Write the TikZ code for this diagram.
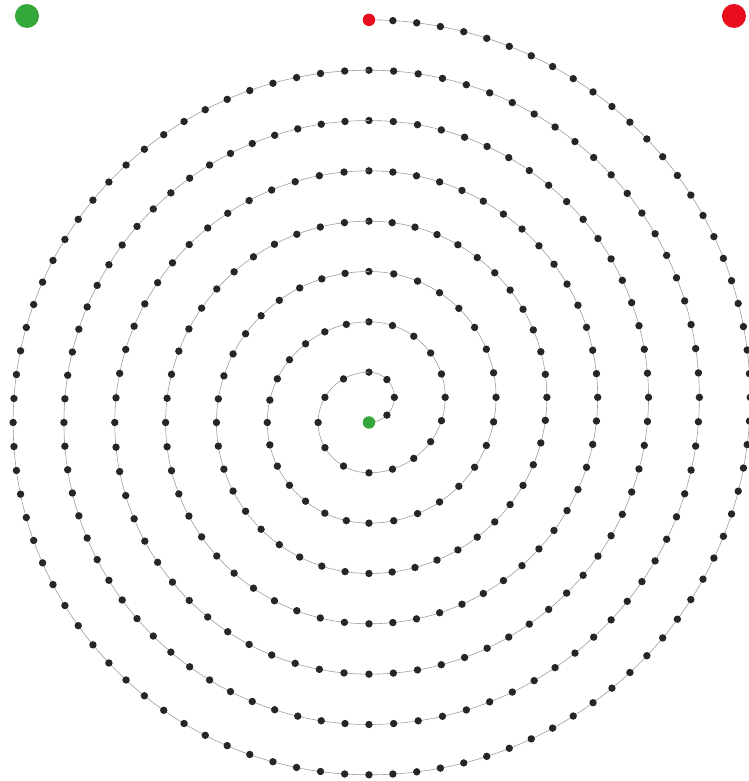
\documentclass[tikz,border=0pt]{standalone}
\usepackage{tikz}
\definecolor{beadgray}{RGB}{38,38,38}
\definecolor{markgreen}{RGB}{52,168,58}
\definecolor{markred}{RGB}{232,14,30}

\begin{document}
\begin{tikzpicture}[
    x=1.01pt, y=1pt,
    turn/.style={draw=black!38, line width=0.6pt},
    bead/.style={circle, fill=beadgray, inner sep=0pt, minimum size=7.4pt},
    endmark/.style={circle, inner sep=0pt, minimum size=12.5pt},
    cornermark/.style={circle, inner sep=0pt, minimum size=24pt}
]
\useasboundingbox (-365.3,-358.5) rectangle (376.2,422.5);
\def\pitch{50.33}

% half turns on the right, centred above the start
\foreach \k in {0,...,7}{
    \pgfmathsetmacro{\rr}{\k*\pitch+\pitch/2}
    \draw[turn] (0,-\k*\pitch) arc[start angle=-90, end angle=90, radius=\rr];
    \pgfmathtruncatemacro{\nn}{2*round(pi*\rr/48)}
    \foreach \j in {1,...,\nn}{
        \pgfmathsetmacro{\aa}{-90+180*\j/\nn}
        \node[bead] (r\k-\j) at ({\rr*cos(\aa)}, {\pitch/2+\rr*sin(\aa)}) {};
    }
}
% half turns on the left, centred on the start
\foreach \k in {1,...,7}{
    \pgfmathsetmacro{\rr}{\k*\pitch}
    \draw[turn] (0,\rr) arc[start angle=90, end angle=270, radius=\rr];
    \pgfmathtruncatemacro{\nn}{2*round(pi*\rr/48)}
    \foreach \j in {1,...,\nn}{
        \pgfmathsetmacro{\aa}{90+180*\j/\nn}
        \node[bead] (l\k-\j) at ({\rr*cos(\aa)}, {\rr*sin(\aa)}) {};
    }
}

\node[endmark, fill=markgreen] (start) at (0,0) {};
\node[endmark, fill=markred] (finish) at (0,8*\pitch) {};

\node[cornermark, fill=markgreen] (startkey) at (-338.6,406.5) {};
\node[cornermark, fill=markred] (finishkey) at (361.4,406.5) {};
\end{tikzpicture}
\end{document}
